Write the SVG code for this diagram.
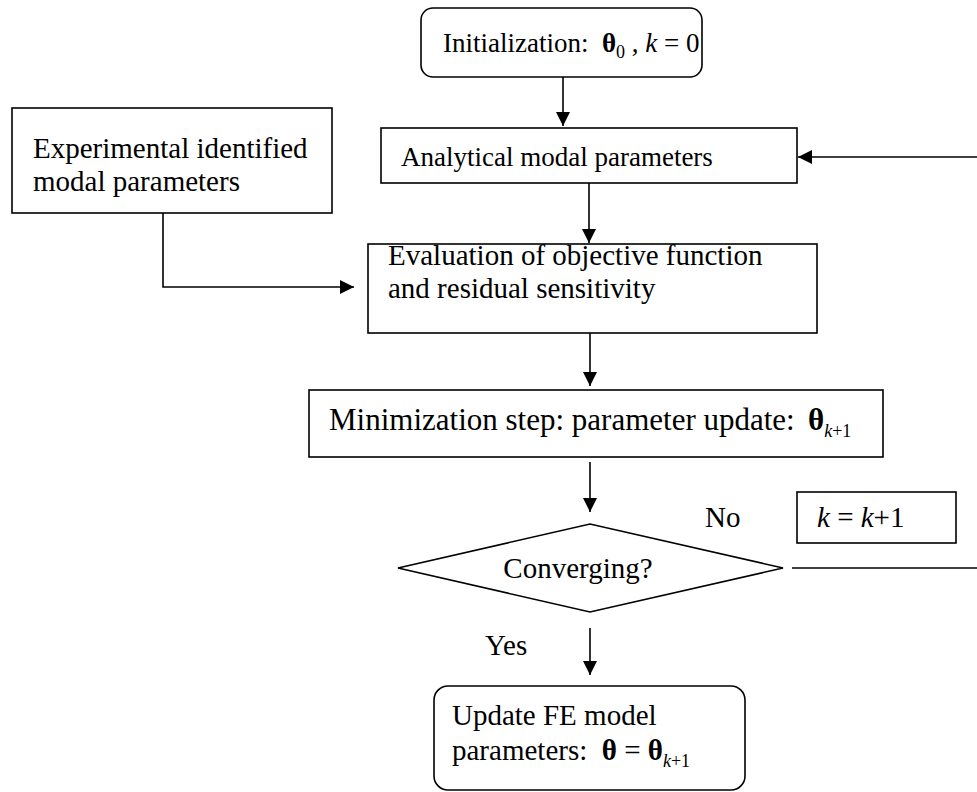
<svg xmlns="http://www.w3.org/2000/svg" width="977" height="792" viewBox="0 0 977 792">
<defs>
<style>
.box{fill:#fff;stroke:#000;stroke-width:1.6}
.ln{fill:none;stroke:#000;stroke-width:1.6}
text{font-family:"Liberation Serif","Times New Roman",serif;font-size:29px;fill:#000;white-space:pre}
.b{font-weight:bold}
.i{font-style:italic}
.sub{font-size:18px}
.sm{font-size:27px}
.lg{font-size:31px}
</style>
<marker id="ah" markerUnits="userSpaceOnUse" markerWidth="16" markerHeight="14" refX="14" refY="7" orient="auto">
<path d="M0,0 L14,7 L0,14 Z" fill="#000"/>
</marker>
</defs>
<g id="connectors">
<line class="ln" x1="563" y1="77" x2="563" y2="126" marker-end="url(#ah)"/>
<line class="ln" x1="977" y1="157" x2="798" y2="157" marker-end="url(#ah)"/>
<line class="ln" x1="589" y1="183" x2="589" y2="243" marker-end="url(#ah)"/>
<polyline class="ln" points="163,213 163,287 354,287" marker-end="url(#ah)"/>
<line class="ln" x1="590" y1="333" x2="590" y2="386" marker-end="url(#ah)"/>
<line class="ln" x1="590" y1="462" x2="590" y2="512" marker-end="url(#ah)"/>
<line class="ln" x1="792" y1="568" x2="977" y2="568"/>
<line class="ln" x1="590" y1="628" x2="590" y2="675" marker-end="url(#ah)"/>
</g>
<g id="init">
<rect class="box" x="421" y="8" width="281" height="69" rx="12"/>
<text class="sm" x="443" y="52">Initialization:  <tspan class="b">θ</tspan><tspan class="sub" dy="6">0</tspan><tspan dy="-6"> , </tspan><tspan class="i">k</tspan> = 0</text>
</g>
<g id="analytical">
<rect class="box" x="381" y="128" width="416" height="55"/>
<text class="sm" x="401" y="166">Analytical modal parameters</text>
</g>
<g id="experimental">
<rect class="box" x="12" y="108" width="320" height="105"/>
<text x="33" y="158">Experimental identified</text>
<text x="33" y="191">modal parameters</text>
</g>
<g id="evaluation">
<rect class="box" x="368" y="244" width="449" height="89"/>
<text x="388" y="265">Evaluation of objective function</text>
<text x="388" y="298">and residual sensitivity</text>
</g>
<g id="minimization">
<rect class="box" x="309" y="390" width="574" height="67"/>
<text class="lg" x="329" y="430">Minimization step: parameter update:<tspan class="b" x="808">θ</tspan><tspan class="sub i" dy="7">k</tspan><tspan class="sub">+1</tspan></text>
</g>
<g id="converging">
<polygon class="box" points="398,568 590,524 783,568 590,612"/>
<text x="578" y="578" text-anchor="middle">Converging?</text>
</g>
<g id="no-label">
<text x="705" y="527">No</text>
</g>
<g id="increment">
<rect class="box" x="797" y="492" width="159" height="51"/>
<text x="817" y="527"><tspan class="i">k</tspan> = <tspan class="i">k</tspan>+1</text>
</g>
<g id="yes-label">
<text x="485" y="655">Yes</text>
</g>
<g id="update">
<rect class="box" x="434" y="686" width="311" height="104" rx="14"/>
<text x="452" y="725">Update FE model</text>
<text x="452" y="760">parameters:  <tspan class="b">θ</tspan> = <tspan class="b">θ</tspan><tspan class="sub i" dy="7">k</tspan><tspan class="sub">+1</tspan></text>
</g>
</svg>
